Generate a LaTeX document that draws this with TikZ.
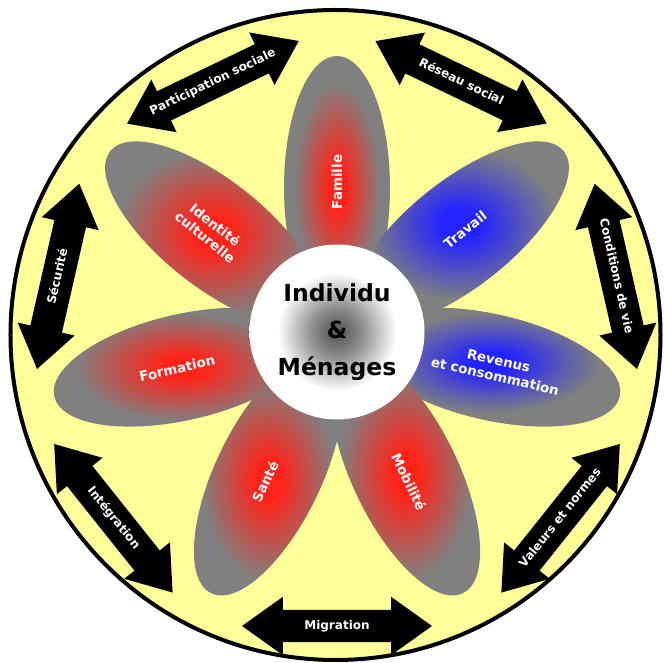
\documentclass[tikz,border=0pt]{standalone}
\usepackage{fontspec}
\setmainfont{DejaVu Sans}
\usetikzlibrary{shapes.geometric,shapes.arrows}

\definecolor{fond}{RGB}{255,255,153}
\definecolor{petalgray}{RGB}{128,128,128}
\definecolor{petalred}{RGB}{255,35,25}
\definecolor{petalblue}{RGB}{35,35,255}

\pgfdeclareradialshading{redpetal}{\pgfpoint{0bp}{0bp}}{color(0bp)=(petalred); color(4bp)=(petalred); color(20bp)=(petalgray); color(50bp)=(petalgray)}
\pgfdeclareradialshading{bluepetal}{\pgfpoint{0bp}{0bp}}{color(0bp)=(petalblue); color(4bp)=(petalblue); color(20bp)=(petalgray); color(50bp)=(petalgray)}
\pgfdeclareradialshading{core}{\pgfpoint{0bp}{0bp}}{color(0bp)=(black!68); color(7bp)=(black!45); color(17bp)=(white); color(50bp)=(white)}

\begin{document}
\begin{tikzpicture}[x=1pt,y=1pt,
    petal/.style ={ellipse, shade, inner sep = 0pt, minimum width=264pt, minimum height=106pt},
    petallabel/.style ={text=white, align=center, font=\bfseries\fontsize{13.4}{16}\selectfont},
    link/.style ={double arrow, fill=black, text=white, font=\bfseries\fontsize{12}{14}\selectfont,
      double arrow tip angle=71, double arrow head extend=13pt, minimum height=190pt,
      inner ysep=10.25pt, text height=9pt, text depth=2.5pt},
    centre/.style ={circle, shade, shading=core, inner sep = 0pt, minimum size=175pt, align=center,
      font=\bfseries\fontsize{23.5}{37}\selectfont}]
   \useasboundingbox (-337,-328) rectangle (327,335);

   \draw[line width=4pt, fill=fond] (-1.5,0) circle (325);

   \begin{scope}[shift={(0,3)}]
   \node[petal, shading=redpetal, rotate=90] (famille) at (90:144) {};
   \node[petal, shading=bluepetal, rotate=38.57] (travail) at (38.57:158) {};
   \node[petal, shading=bluepetal, rotate=-12.86] (revenus) at (-12.86:158) {};
   \node[petal, shading=redpetal, rotate=-64.29] (mobilite) at (-64.29:158) {};
   \node[petal, shading=redpetal, rotate=-115.71] (sante) at (-115.71:158) {};
   \node[petal, shading=redpetal, rotate=-167.14] (formation) at (-167.14:158) {};
   \node[petal, shading=redpetal, rotate=141.43] (identite) at (141.43:158) {};

   \node[petallabel, rotate=90] (lfamille) at (90:150) {Famille};
   \node[petallabel, rotate=38.57] (ltravail) at (38.57:164) {Travail};
   \node[petallabel, rotate=-12.86] (lrevenus) at (-12.86:164) {Revenus\\et consommation};
   \node[petallabel, rotate=-64.29] (lmobilite) at (-64.29:166) {Mobilité};
   \node[petallabel, rotate=64.29] (lsante) at (-115.71:166) {Santé};
   \node[petallabel, rotate=12.86] (lformation) at (-167.14:164) {Formation};
   \node[petallabel, rotate=-38.57] (lidentite) at (141.43:162) {Identité\\culturelle};

   \node[centre] (individu) at (0,0) {Individu\\\&\\Ménages};
   \end{scope}

   \begin{scope}[shift={(0,-5)}]
   \node[link, rotate=0] (migration) at (-90:286) {Migration};
   \node[link, rotate=51.43] (valeurs) at (-38.57:286) {Valeurs et normes};
   \node[link, rotate=-77.14] (conditions) at (12.86:286) {Conditions de vie};
   \node[link, rotate=-25.71] (reseau) at (64.29:286) {Réseau social};
   \node[link, rotate=25.71] (participation) at (115.71:286) {Participation sociale};
   \node[link, rotate=77.14] (securite) at (167.14:286) {Sécurité};
   \node[link, rotate=-51.43] (integration) at (218.57:286) {Intégration};
   \end{scope}
\end{tikzpicture}
\end{document}
